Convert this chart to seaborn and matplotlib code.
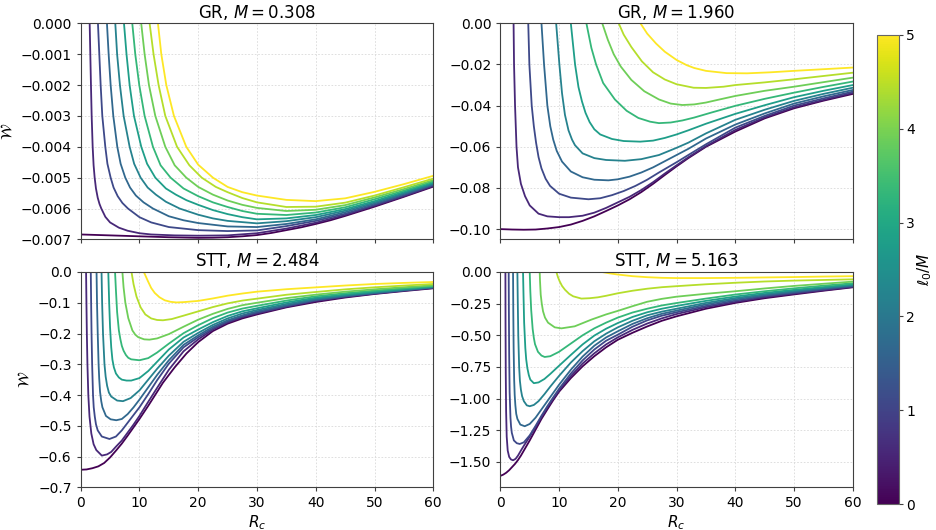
import numpy as np
import pandas as pd
import matplotlib
matplotlib.use("Agg")
import matplotlib.pyplot as plt
import seaborn as sns

# colour parameter of each curve (ell_0 / M)
ell_over_m = [0.0, 0.56, 1.11, 1.67, 2.22, 2.78, 3.33, 3.89, 4.44, 5.0]

# ---- GR, M = 0.308 ----
gr_a_r = [
    [0, 5, 10, 15, 20, 22.5, 25, 27.5, 30, 32.5, 35, 37.5, 40, 42.5, 45, 50, 55, 60],
    [1.53, 1.64, 1.75, 1.87, 2.04, 2.2, 2.38, 2.6, 2.9, 3.2, 3.51, 4.2, 5, 6.5, 8, 10, 12, 16, 20, 25, 30, 35, 40, 45, 50, 55, 60],
    [2.94, 3.17, 3.40, 3.68, 4.19, 4.55, 5.10, 5.6, 6.3, 7.1, 8.05, 10, 12, 15, 20, 25, 30, 35, 40, 45, 50, 55, 60],
    [4.47, 4.76, 5.10, 5.55, 6.23, 6.8, 7.59, 8.4, 9.4, 10.7, 12.3, 15, 17.5, 20, 25, 30, 35, 40, 45, 50, 55, 60],
    [5.89, 6.2, 6.68, 7.31, 8.33, 9.1, 10.2, 11.4, 12.8, 14.5, 16.84, 20, 22.5, 25, 30, 35, 40, 45, 50, 55, 60],
    [7.37, 7.8, 8.33, 9.07, 10.31, 11.3, 12.7, 14.5, 16.2, 18, 20, 22.5, 25, 27.5, 30, 35, 40, 45, 50, 55, 60],
    [8.78, 9.29, 9.97, 10.88, 12.3, 13.6, 15.3, 17.5, 20, 22.5, 25, 27.5, 30, 35, 40, 45, 50, 55, 60],
    [10.3, 10.88, 11.62, 12.7, 14.4, 16, 17.97, 20, 22.5, 25, 27.5, 30, 35, 40, 45, 50, 55, 60],
    [11.73, 12.4, 13.26, 14.4, 16.4, 18.5, 20.6, 23, 25, 27.5, 30, 35, 40, 45, 50, 55, 60],
    [13.15, 13.72, 14.57, 15.87, 17.97, 20, 22.51, 25, 27.5, 30, 35, 40, 45, 50, 55, 60],
]
gr_a_w = [
    [-6.84e-3, -6.87e-3, -6.90e-3, -6.93e-3, -6.95e-3, -6.945e-3, -6.93e-3, -6.90e-3, -6.86e-3, -6.79e-3, -6.70e-3, -6.61e-3, -6.50e-3, -6.38e-3, -6.24e-3, -5.94e-3, -5.62e-3, -5.29e-3],
    [0, -1e-3, -2e-3, -3e-3, -4e-3, -4.6e-3, -5e-3, -5.35e-3, -5.65e-3, -5.85e-3, -6.0e-3, -6.27e-3, -6.45e-3, -6.62e-3, -6.72e-3, -6.80e-3, -6.84e-3, -6.87e-3, -6.88e-3, -6.87e-3, -6.80e-3, -6.65e-3, -6.46e-3, -6.21e-3, -5.91e-3, -5.60e-3, -5.27e-3],
    [0, -1e-3, -2e-3, -3e-3, -4e-3, -4.55e-3, -5e-3, -5.32e-3, -5.6e-3, -5.82e-3, -6.0e-3, -6.28e-3, -6.45e-3, -6.6e-3, -6.7e-3, -6.73e-3, -6.71e-3, -6.57e-3, -6.40e-3, -6.17e-3, -5.88e-3, -5.57e-3, -5.24e-3],
    [0, -1e-3, -2e-3, -3e-3, -4e-3, -4.55e-3, -5e-3, -5.32e-3, -5.58e-3, -5.8e-3, -6.0e-3, -6.25e-3, -6.38e-3, -6.47e-3, -6.58e-3, -6.60e-3, -6.50e-3, -6.35e-3, -6.12e-3, -5.84e-3, -5.53e-3, -5.22e-3],
    [0, -1e-3, -2e-3, -3e-3, -4e-3, -4.55e-3, -5e-3, -5.32e-3, -5.55e-3, -5.78e-3, -6.0e-3, -6.2e-3, -6.32e-3, -6.4e-3, -6.48e-3, -6.41e-3, -6.28e-3, -6.07e-3, -5.80e-3, -5.50e-3, -5.19e-3],
    [0, -1e-3, -2e-3, -3e-3, -4e-3, -4.55e-3, -5e-3, -5.35e-3, -5.55e-3, -5.73e-3, -5.88e-3, -6.05e-3, -6.18e-3, -6.28e-3, -6.35e-3, -6.32e-3, -6.21e-3, -6.02e-3, -5.76e-3, -5.46e-3, -5.16e-3],
    [0, -1e-3, -2e-3, -3e-3, -4e-3, -4.6e-3, -5e-3, -5.35e-3, -5.6e-3, -5.8e-3, -5.95e-3, -6.08e-3, -6.17e-3, -6.21e-3, -6.13e-3, -5.96e-3, -5.70e-3, -5.42e-3, -5.12e-3],
    [0, -1e-3, -2e-3, -3e-3, -4e-3, -4.6e-3, -5e-3, -5.3e-3, -5.55e-3, -5.74e-3, -5.88e-3, -5.98e-3, -6.08e-3, -6.04e-3, -5.89e-3, -5.64e-3, -5.37e-3, -5.08e-3],
    [0, -1e-3, -2e-3, -3e-3, -4e-3, -4.6e-3, -5e-3, -5.3e-3, -5.47e-3, -5.66e-3, -5.8e-3, -5.95e-3, -5.94e-3, -5.81e-3, -5.58e-3, -5.31e-3, -5.03e-3],
    [0, -1e-3, -2e-3, -3e-3, -4e-3, -4.58e-3, -5.0e-3, -5.3e-3, -5.47e-3, -5.58e-3, -5.72e-3, -5.76e-3, -5.67e-3, -5.46e-3, -5.21e-3, -4.94e-3],
]

# ---- GR, M = 1.960 ----
gr_b_r = [
    [0, 2, 4, 6, 8, 10, 12, 14, 16, 18, 20, 22, 24, 26, 28, 30, 32, 35, 40, 45, 50, 55, 60],
    [2.25, 2.33, 2.5, 2.75, 3.0, 3.5, 4.2, 5, 6.5, 8, 10, 11.7, 14, 16, 18, 20, 22, 24, 26, 28, 30, 32, 35, 40, 45, 50, 55, 60],
    [4.75, 4.94, 5.34, 5.7, 6.08, 6.5, 7, 7.7, 8.46, 10, 12, 15, 17, 19, 21, 23, 25, 27, 30, 32, 35, 40, 45, 50, 55, 60],
    [7.0, 7.44, 8.0, 8.5, 9.0, 9.6, 10.5, 12, 14, 16, 18.4, 20, 22, 24, 26, 28, 30, 32, 35, 40, 45, 50, 55, 60],
    [9.5, 10.05, 10.5, 11.0, 11.6, 12.2, 12.7, 14, 16, 18, 21.2, 24, 27, 30, 32, 35, 40, 45, 50, 55, 60],
    [12.0, 12.72, 13.3, 13.9, 14.5, 15.2, 16, 17, 19, 21, 23.8, 26, 28, 30, 32, 35, 40, 45, 50, 55, 60],
    [14.65, 15.5, 16.3, 17.5, 19.5, 21.5, 23.5, 25.5, 27, 29, 31, 33, 36, 40, 45, 50, 55, 60],
    [17.35, 18.3, 19.3, 20.5, 22.3, 24.5, 27, 29, 31, 33, 35, 37, 40, 45, 50, 55, 60],
    [20.15, 21, 22.3, 24.1, 26, 28, 30, 32.9, 35, 38, 40, 45, 50, 55, 60],
    [23.85, 25, 26.5, 28, 30, 31.7, 33, 35, 38.5, 42, 46, 50, 55, 60],
]
gr_b_w = [
    [-0.1000, -0.1002, -0.1003, -0.1002, -0.0997, -0.0990, -0.0978, -0.0960, -0.0938, -0.0912, -0.0885, -0.0855, -0.0820, -0.0780, -0.0737, -0.0695, -0.0655, -0.0600, -0.0526, -0.0462, -0.0413, -0.0376, -0.0343],
    [0, -0.020, -0.040, -0.060, -0.070, -0.078, -0.084, -0.0885, -0.0925, -0.0938, -0.0942, -0.0942, -0.0935, -0.0920, -0.0897, -0.0870, -0.0843, -0.0810, -0.0772, -0.0730, -0.0690, -0.0651, -0.0597, -0.0518, -0.0457, -0.0408, -0.0372, -0.0338],
    [0, -0.020, -0.040, -0.050, -0.058, -0.065, -0.0705, -0.0755, -0.079, -0.0828, -0.0847, -0.0855, -0.085, -0.0835, -0.0815, -0.079, -0.076, -0.0725, -0.0675, -0.064, -0.0588, -0.0507, -0.045, -0.040, -0.0365, -0.0332],
    [0, -0.020, -0.040, -0.050, -0.0565, -0.062, -0.0672, -0.072, -0.0748, -0.076, -0.0763, -0.0758, -0.0745, -0.0725, -0.070, -0.067, -0.064, -0.061, -0.056, -0.0492, -0.0438, -0.039, -0.0355, -0.0324],
    [0, -0.020, -0.034, -0.0445, -0.052, -0.0565, -0.0592, -0.0632, -0.0655, -0.0664, -0.0668, -0.066, -0.064, -0.0605, -0.058, -0.0535, -0.0469, -0.042, -0.0377, -0.0343, -0.0313],
    [0, -0.020, -0.031, -0.038, -0.0435, -0.048, -0.0515, -0.054, -0.0562, -0.0572, -0.0575, -0.057, -0.0557, -0.054, -0.052, -0.0488, -0.044, -0.0398, -0.0359, -0.0328, -0.030],
    [0, -0.012, -0.020, -0.029, -0.037, -0.0425, -0.046, -0.0478, -0.0485, -0.0482, -0.0472, -0.0458, -0.0433, -0.0401, -0.0367, -0.0337, -0.0309, -0.0283],
    [0, -0.008, -0.015, -0.021, -0.0275, -0.033, -0.037, -0.039, -0.0397, -0.0394, -0.0385, -0.0372, -0.0353, -0.0328, -0.0308, -0.0286, -0.0264],
    [0, -0.0055, -0.0115, -0.0185, -0.0238, -0.0273, -0.0296, -0.0313, -0.0314, -0.0308, -0.030, -0.0287, -0.0272, -0.0256, -0.024],
    [0, -0.0050, -0.0098, -0.0138, -0.0178, -0.0203, -0.0217, -0.0231, -0.0242, -0.0243, -0.0238, -0.0231, -0.0223, -0.0215],
]

# ---- STT, M = 2.484 ----
stt_a_r = [
    [0, 1, 2, 3, 4, 5, 6, 7, 8, 9, 10, 11.5, 13, 14, 16, 18, 20, 22.5, 25, 27.5, 30, 35, 40, 45, 50, 55, 60],
    [0.92, 0.98, 1.05, 1.15, 1.3, 1.5, 1.81, 2.2, 2.66, 3.6, 4.5, 5.2, 6, 7, 8, 9, 10, 11.5, 13, 15, 17.5, 20, 22.5, 25, 27.5, 30, 35, 40, 45, 50, 55, 60],
    [1.72, 1.78, 1.85, 1.95, 2.1, 2.22, 2.4, 2.6, 2.9, 3.6, 4.9, 6, 7, 8, 9, 10, 11.5, 13, 15, 17.5, 20, 22.5, 25, 27.5, 30, 35, 40, 45, 50, 55, 60],
    [2.7, 2.78, 2.9, 3.05, 3.15, 3.3, 3.5, 3.7, 4.3, 5.1, 6.06, 7, 8, 9, 10, 11.5, 13, 15, 17.5, 20, 22.5, 25, 27.5, 30, 35, 40, 45, 50, 55, 60],
    [3.55, 3.65, 3.8, 4.05, 4.25, 4.5, 4.8, 5.2, 6.2, 7.2, 8.5, 10, 11.5, 13, 15, 17.5, 20, 22.5, 25, 27.5, 30, 35, 40, 45, 50, 55, 60],
    [4.7, 4.85, 5.0, 5.2, 5.4, 5.65, 6.0, 6.5, 7, 7.8, 8.6, 10, 11.5, 13, 15, 17.5, 20, 22.5, 25, 27.5, 30, 35, 40, 45, 50, 55, 60],
    [5.85, 6.0, 6.2, 6.5, 6.75, 7.0, 7.3, 7.7, 8.1, 8.6, 10, 11.5, 13, 15, 17.5, 20, 22.5, 25, 27.5, 30, 35, 40, 45, 50, 55, 60],
    [7.1, 7.3, 7.6, 8.1, 8.8, 9.3, 9.8, 10.8, 11.7, 13, 15, 17.5, 20, 22.5, 25, 27.5, 30, 35, 40, 45, 50, 55, 60],
    [8.65, 9.0, 9.5, 10.2, 11, 12, 13, 14, 15.5, 17.5, 20, 22.5, 25, 27.5, 30, 35, 40, 45, 50, 55, 60],
    [10.75, 11.45, 12.0, 12.6, 13.4, 14.3, 15.3, 16.3, 17.5, 20, 22.5, 25, 27.5, 30, 35, 40, 45, 50, 55, 60],
]
stt_a_w = [
    [-0.643, -0.642, -0.638, -0.632, -0.621, -0.603, -0.581, -0.558, -0.532, -0.505, -0.478, -0.435, -0.390, -0.360, -0.310, -0.265, -0.228, -0.192, -0.168, -0.151, -0.138, -0.115, -0.0975, -0.083, -0.0715, -0.062, -0.053],
    [0, -0.1, -0.2, -0.3, -0.4, -0.47, -0.525, -0.56, -0.579, -0.597, -0.593, -0.585, -0.568, -0.548, -0.522, -0.496, -0.468, -0.422, -0.377, -0.318, -0.258, -0.219, -0.187, -0.164, -0.147, -0.135, -0.113, -0.0943, -0.081, -0.0704, -0.0605, -0.052],
    [0, -0.1, -0.2, -0.3, -0.4, -0.44, -0.47, -0.495, -0.515, -0.535, -0.543, -0.535, -0.515, -0.49, -0.465, -0.44, -0.397, -0.352, -0.298, -0.245, -0.212, -0.183, -0.161, -0.144, -0.132, -0.111, -0.0921, -0.0795, -0.0694, -0.060, -0.0509],
    [0, -0.1, -0.2, -0.3, -0.345, -0.39, -0.42, -0.44, -0.468, -0.479, -0.482, -0.478, -0.462, -0.44, -0.415, -0.375, -0.335, -0.287, -0.237, -0.206, -0.178, -0.157, -0.141, -0.128, -0.108, -0.0899, -0.078, -0.0683, -0.059, -0.0498],
    [0, -0.1, -0.2, -0.3, -0.34, -0.37, -0.392, -0.405, -0.418, -0.42, -0.41, -0.385, -0.35, -0.315, -0.272, -0.227, -0.198, -0.172, -0.151, -0.135, -0.1236, -0.104, -0.0867, -0.0755, -0.0661, -0.0575, -0.0488],
    [0, -0.1, -0.18, -0.245, -0.285, -0.31, -0.33, -0.343, -0.35, -0.353, -0.353, -0.345, -0.322, -0.292, -0.252, -0.213, -0.187, -0.163, -0.143, -0.128, -0.118, -0.099, -0.0834, -0.073, -0.0639, -0.0555, -0.0477],
    [0, -0.06, -0.13, -0.19, -0.218, -0.24, -0.256, -0.27, -0.279, -0.284, -0.287, -0.28, -0.262, -0.233, -0.199, -0.173, -0.150, -0.132, -0.119, -0.110, -0.093, -0.079, -0.069, -0.0607, -0.053, -0.0455],
    [0, -0.05, -0.1, -0.15, -0.19, -0.204, -0.212, -0.219, -0.22, -0.216, -0.202, -0.178, -0.155, -0.136, -0.12, -0.108, -0.100, -0.085, -0.0737, -0.064, -0.0563, -0.0495, -0.0433],
    [0, -0.04, -0.08, -0.115, -0.138, -0.151, -0.156, -0.157, -0.153, -0.142, -0.128, -0.114, -0.102, -0.093, -0.0867, -0.074, -0.065, -0.0565, -0.0498, -0.0442, -0.039],
    [0, -0.03, -0.052, -0.068, -0.082, -0.092, -0.097, -0.099, -0.098, -0.094, -0.086, -0.077, -0.070, -0.064, -0.056, -0.050, -0.044, -0.039, -0.0355, -0.0325],
]

# ---- STT, M = 5.163 ----
stt_b_r = [
    [0, 0.5, 1, 1.5, 2, 2.5, 3, 3.5, 4, 5, 6, 7, 8, 9, 10, 12, 14, 16, 18, 20, 22.5, 25, 27.5, 30, 35, 40, 45, 50, 55, 60],
    [0.86, 0.88, 0.92, 0.98, 1.08, 1.25, 1.5, 1.8, 2.16, 2.6, 3.0, 3.5, 4, 5, 6, 7, 8, 9, 10, 12, 14, 16, 18, 20, 22.5, 25, 27.5, 30, 35, 40, 45, 50, 55, 60],
    [1.42, 1.45, 1.5, 1.58, 1.72, 1.82, 1.95, 2.3, 2.8, 3.3, 4, 5, 6, 7, 8, 9, 10, 12, 14, 16, 18, 20, 22.5, 25, 27.5, 30, 35, 40, 45, 50, 55, 60],
    [2.16, 2.2, 2.26, 2.35, 2.44, 2.55, 2.7, 2.9, 3.4, 4.15, 5, 6, 7, 8, 9, 10, 12, 14, 16, 18, 20, 22.5, 25, 27.5, 30, 35, 40, 45, 50, 55, 60],
    [2.9, 2.97, 3.05, 3.2, 3.33, 3.5, 3.7, 4.0, 4.5, 5.0, 5.7, 6.5, 7.5, 8.5, 10, 12, 14, 16, 18, 20, 22.5, 25, 27.5, 30, 35, 40, 45, 50, 55, 60],
    [3.86, 3.95, 4.05, 4.25, 4.4, 4.6, 4.85, 5.1, 5.7, 6.5, 7.5, 8.5, 10, 12, 14, 16, 18, 20, 22.5, 25, 27.5, 30, 35, 40, 45, 50, 55, 60],
    [5.0, 5.1, 5.25, 5.5, 5.7, 5.9, 6.4, 7.0, 7.55, 8.5, 10, 12, 14, 16, 18, 20, 22.5, 25, 27.5, 30, 35, 40, 45, 50, 55, 60],
    [6.7, 6.75, 6.87, 7.05, 7.27, 7.6, 8.12, 9.26, 10.4, 12.66, 15.5, 18, 20, 22.5, 25, 27.5, 30, 35, 40, 45, 50, 55, 60],
    [9.54, 9.8, 10.1, 10.5, 11.0, 11.7, 12.4, 13.8, 15.2, 16.6, 18, 20, 22.5, 25, 27.5, 30, 35, 40, 45, 50, 55, 60],
    [17.3, 18.5, 20, 22.5, 25, 27.5, 30, 35, 40, 45, 50, 55, 60],
]
stt_b_w = [
    [-1.61, -1.60, -1.585, -1.565, -1.54, -1.515, -1.485, -1.45, -1.41, -1.33, -1.245, -1.16, -1.085, -1.012, -0.945, -0.838, -0.745, -0.665, -0.595, -0.535, -0.48, -0.43, -0.385, -0.35, -0.29, -0.244, -0.207, -0.177, -0.148, -0.121],
    [0, -0.4, -0.8, -1.1, -1.3, -1.41, -1.46, -1.48, -1.487, -1.475, -1.45, -1.41, -1.372, -1.3, -1.225, -1.145, -1.07, -1.0, -0.935, -0.822, -0.723, -0.642, -0.572, -0.516, -0.457, -0.407, -0.366, -0.332, -0.278, -0.236, -0.199, -0.171, -0.144, -0.118],
    [0, -0.3, -0.65, -0.95, -1.15, -1.22, -1.27, -1.33, -1.352, -1.358, -1.345, -1.29, -1.215, -1.135, -1.06, -0.99, -0.922, -0.802, -0.698, -0.612, -0.543, -0.495, -0.432, -0.382, -0.345, -0.318, -0.268, -0.226, -0.191, -0.164, -0.137, -0.113],
    [0, -0.3, -0.6, -0.85, -0.97, -1.05, -1.12, -1.16, -1.205, -1.218, -1.2, -1.15, -1.085, -1.02, -0.955, -0.89, -0.772, -0.668, -0.582, -0.517, -0.468, -0.41, -0.365, -0.33, -0.305, -0.256, -0.216, -0.183, -0.157, -0.131, -0.108],
    [0, -0.25, -0.5, -0.75, -0.86, -0.93, -0.98, -1.02, -1.053, -1.06, -1.05, -1.02, -0.965, -0.905, -0.82, -0.715, -0.625, -0.547, -0.487, -0.437, -0.385, -0.342, -0.313, -0.29, -0.244, -0.206, -0.175, -0.149, -0.125, -0.103],
    [0, -0.2, -0.4, -0.6, -0.69, -0.76, -0.815, -0.85, -0.878, -0.872, -0.845, -0.805, -0.74, -0.655, -0.572, -0.502, -0.448, -0.403, -0.355, -0.318, -0.29, -0.268, -0.228, -0.194, -0.165, -0.141, -0.119, -0.097],
    [0, -0.15, -0.3, -0.45, -0.52, -0.57, -0.63, -0.66, -0.671, -0.665, -0.63, -0.565, -0.5, -0.445, -0.4, -0.36, -0.32, -0.29, -0.264, -0.245, -0.21, -0.178, -0.152, -0.129, -0.108, -0.089],
    [0, -0.07, -0.179, -0.25, -0.311, -0.36, -0.40, -0.437, -0.445, -0.429, -0.376, -0.335, -0.307, -0.27, -0.235, -0.212, -0.195, -0.172, -0.152, -0.13, -0.11, -0.093, -0.076],
    [0, -0.04, -0.074, -0.11, -0.14, -0.172, -0.192, -0.21, -0.207, -0.2, -0.188, -0.168, -0.148, -0.132, -0.12, -0.112, -0.097, -0.085, -0.075, -0.068, -0.063, -0.058],
    [0, -0.01, -0.02, -0.033, -0.041, -0.046, -0.048, -0.048, -0.046, -0.043, -0.04, -0.036, -0.033],
]

panels = [
    ("GR, $M = 0.308$", gr_a_r, gr_a_w, (-0.007, 0)),
    ("GR, $M = 1.960$", gr_b_r, gr_b_w, (-0.105, 0)),
    ("STT, $M = 2.484$", stt_a_r, stt_a_w, (-0.7, 0)),
    ("STT, $M = 5.163$", stt_b_r, stt_b_w, (-1.70, 0)),
]


def curves_frame(r_lists, w_lists):
    rows = []
    for ell, rs, ws in zip(ell_over_m, r_lists, w_lists):
        for r, w in zip(rs, ws):
            rows.append((ell, r, w))
    return pd.DataFrame(rows, columns=["ell", "R", "W"])


plt.rcParams["axes.edgecolor"] = "0.25"
plt.rcParams["xtick.color"] = "0.25"
plt.rcParams["ytick.color"] = "0.25"
plt.rcParams["xtick.labelcolor"] = "black"
plt.rcParams["ytick.labelcolor"] = "black"

fig = plt.figure(figsize=(9.37, 5.30), dpi=100)
boxes = [
    [0.0861, 0.5483, 0.3763, 0.4077],
    [0.5340, 0.5483, 0.3761, 0.4077],
    [0.0861, 0.0806, 0.3763, 0.4062],
    [0.5340, 0.0806, 0.3761, 0.4062],
]

for i, (title, rl, wl, ylim) in enumerate(panels):
    ax = fig.add_axes(boxes[i])
    df = curves_frame(rl, wl)
    sns.lineplot(data=df, x="R", y="W", hue="ell", palette="viridis",
                 hue_norm=(0, 5), estimator=None, sort=False, legend=False,
                 linewidth=1.3, ax=ax)
    ax.set_xlim(0, 60)
    ax.set_ylim(*ylim)
    ax.grid(True, color="0.85", linestyle=(0, (2, 2)), linewidth=0.6)
    ax.set_axisbelow(True)
    ax.set_title(title, fontsize=12, pad=4)
    ax.tick_params(labelsize=10, length=3)
    if i % 2 == 0:
        ax.set_ylabel(r"$\mathcal{W}$", fontsize=11)
    else:
        ax.set_ylabel("")
    if i < 2:
        ax.set_xlabel("")
        ax.tick_params(labelbottom=False)
    else:
        ax.set_xlabel(r"$R_c$", fontsize=11, labelpad=2)

cax = fig.add_axes([0.9363, 0.049, 0.0235, 0.885])
sm = plt.cm.ScalarMappable(cmap="viridis", norm=plt.Normalize(0, 5))
cb = fig.colorbar(sm, cax=cax)
cb.set_label(r"$\ell_0/M$", fontsize=11, labelpad=0)
cb.ax.tick_params(labelsize=10, length=3, pad=2)
cb.outline.set_edgecolor("0.4")

fig.savefig("out.png", dpi=100)
